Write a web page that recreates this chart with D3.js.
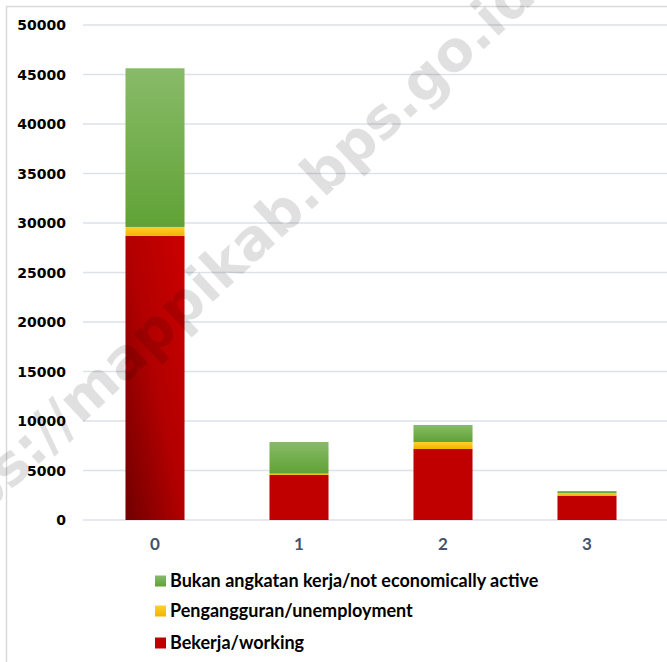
<!DOCTYPE html>
<html>
<head>
<meta charset="utf-8">
<script src="https://cdn.jsdelivr.net/npm/d3@7"></script>
<style>
  html, body { margin: 0; padding: 0; background: #fff; }
  svg { display: block; }
</style>
</head>
<body>
<svg width="667" height="662"></svg>
<script>
const categories = ["0", "1", "2", "3"];
const working = [28700, 4550, 7170, 2460];
const unemployment = [900, 130, 710, 240];
const notActive = [16030, 3200, 1720, 230];
const yTicks = [0, 5000, 10000, 15000, 20000, 25000, 30000, 35000, 40000, 45000, 50000];
const seriesNames = ["Bukan angkatan kerja/not economically active", "Pengangguran/unemployment", "Bekerja/working"];

const svg = d3.select("svg");
const width = +svg.attr("width");
const height = +svg.attr("height");

const rows = categories.map((c, i) => ({ cat: c, working: working[i], unemployment: unemployment[i], notActive: notActive[i] }));
const keys = ["working", "unemployment", "notActive"];
const stack = d3.stack().keys(keys)(rows);

const x = d3.scaleBand().domain(categories).range([83, 659]).paddingInner(0.59).paddingOuter(0.295);
const y = d3.scaleLinear().domain([0, 50000]).range([520, 25]);

// gradients
const defs = svg.append("defs");
const green = defs.append("linearGradient").attr("id", "gGreen").attr("x1", 0).attr("y1", 0).attr("x2", 0).attr("y2", 1);
green.append("stop").attr("offset", 0).attr("stop-color", "#88bb68");
green.append("stop").attr("offset", 1).attr("stop-color", "#60a236");
const yellow = defs.append("linearGradient").attr("id", "gYellow").attr("x1", 0).attr("y1", 0).attr("x2", 0).attr("y2", 1);
yellow.append("stop").attr("offset", 0).attr("stop-color", "#ffd030");
yellow.append("stop").attr("offset", 1).attr("stop-color", "#f2b300");
const darkRed = defs.append("linearGradient").attr("id", "gRed").attr("x1", 0).attr("y1", 1).attr("x2", 1).attr("y2", 0);
darkRed.append("stop").attr("offset", 0).attr("stop-color", "#700000");
darkRed.append("stop").attr("offset", 0.5).attr("stop-color", "#b20000");
darkRed.append("stop").attr("offset", 1).attr("stop-color", "#cc0000");

const fills = { working: "#c00000", unemployment: "url(#gYellow)", notActive: "url(#gGreen)" };

// frame
svg.append("rect").attr("x", 6.5).attr("y", 6.5).attr("width", width + 10).attr("height", height + 10)
  .attr("fill", "none").attr("stroke", "#d9d9d9").attr("stroke-width", 1.5);

// gridlines
svg.append("g").selectAll("line").data(yTicks).join("line")
  .attr("x1", 83).attr("x2", width)
  .attr("y1", d => y(d)).attr("y2", d => y(d))
  .attr("stroke", "#dde1e8").attr("stroke-width", 1.5);

// y labels
svg.append("g").selectAll("text").data(yTicks).join("text")
  .attr("x", 66).attr("y", d => y(d))
  .attr("dy", "0.36em")
  .attr("text-anchor", "end")
  .attr("font-family", "DejaVu Sans")
  .attr("font-weight", "bold")
  .attr("font-size", 14)
  .attr("fill", "#000")
  .text(d => d);

// bars
svg.append("g").selectAll("g").data(stack).join("g")
  .each(function(s) {
    d3.select(this).selectAll("rect").data(s).join("rect")
      .attr("x", d => x(d.data.cat))
      .attr("width", x.bandwidth())
      .attr("y", d => y(d[1]))
      .attr("height", d => y(d[0]) - y(d[1]))
      .attr("fill", d => (s.key === "working" && d.data.cat === "0") ? "url(#gRed)" : fills[s.key]);
  });

// x labels
svg.append("g").selectAll("text").data(categories).join("text")
  .attr("x", d => x(d) + x.bandwidth() / 2)
  .attr("y", 544)
  .attr("dy", "0.36em")
  .attr("text-anchor", "middle")
  .attr("font-family", "Lato")
  .attr("font-weight", "bold")
  .attr("font-size", 17)
  .attr("fill", "#44546a")
  .text(d => d);

// legend
const legendFills = ["url(#gGreen)", "url(#gYellow)", "#c00000"];
const legendY = [581, 611, 643];
const legend = svg.append("g").selectAll("g").data(seriesNames).join("g")
  .attr("transform", (d, i) => `translate(155,${legendY[i]})`);
legend.append("rect").attr("x", 0).attr("y", -5.5).attr("width", 11).attr("height", 11)
  .attr("fill", (d, i) => legendFills[i]);
legend.append("text").attr("x", 15).attr("y", 0).attr("dy", "0.36em")
  .attr("font-family", "Lato")
  .attr("font-weight", "bold")
  .attr("font-size", 18)
  .attr("fill", "#000")
  .text(d => d);

// watermark, semi-transparent on top
svg.append("text")
  .attr("transform", "translate(212,276) rotate(-43)")
  .attr("text-anchor", "middle")
  .attr("dominant-baseline", "central")
  .attr("font-family", "DejaVu Sans")
  .attr("font-weight", "bold")
  .attr("font-size", 56)
  .attr("fill", "#000")
  .attr("fill-opacity", 0.12)
  .text("https://mappikab.bps.go.id");
</script>
</body>
</html>
